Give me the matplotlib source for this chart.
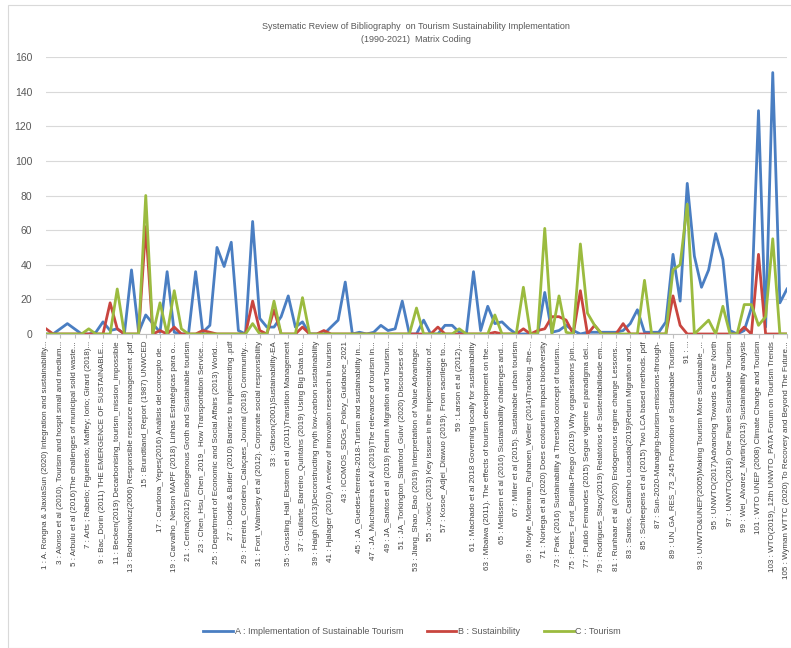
import matplotlib
matplotlib.use("Agg")
import matplotlib.pyplot as plt
import numpy as np

# ---- data -------------------------------------------------------------
series_names = ["A : Implementation of Sustainable Tourism",
                "B : Sustainbility",
                "C : Tourism"]

A_values = [0, 0, 3, 6, 3, 0, 0, 1, 7, 2,
            3, 0, 37, 1, 11, 6, 1, 36, 1, 0,
            0, 36, 1, 5, 50, 39, 53, 2, 0, 65,
            9, 4, 4, 10, 22, 4, 7, 0, 0, 0,
            4, 8, 30, 0, 1, 0, 1, 5, 2, 3,
            19, 0, 0, 8, 0, 0, 5, 5, 1, 0,
            36, 2, 16, 6, 7, 3, 0, 0, 0, 0,
            24, 1, 2, 5, 2, 0, 1, 1, 1, 1,
            1, 2, 6, 14, 1, 1, 1, 7, 46, 19,
            87, 45, 27, 37, 58, 43, 2, 0, 2, 15,
            129, 4, 151, 18, 26]

B_values = [3, 0, 0, 0, 0, 0, 0, 0, 0, 18,
            3, 0, 0, 0, 62, 0, 2, 0, 4, 0,
            0, 0, 2, 1, 0, 0, 0, 0, 0, 19,
            2, 0, 14, 0, 0, 0, 4, 0, 0, 2,
            0, 0, 0, 0, 0, 0, 0, 0, 0, 0,
            0, 0, 0, 0, 0, 4, 0, 0, 0, 0,
            0, 0, 0, 1, 0, 0, 0, 3, 0, 2,
            3, 10, 10, 8, 0, 25, 0, 5, 0, 0,
            0, 6, 0, 0, 0, 0, 0, 0, 22, 5,
            0, 0, 0, 0, 0, 0, 0, 0, 4, 0,
            46, 0, 0, 0, 0]

C_values = [0, 0, 0, 0, 0, 0, 3, 0, 0, 0,
            26, 0, 0, 0, 80, 0, 18, 0, 25, 3,
            0, 0, 0, 0, 0, 0, 0, 0, 0, 6,
            0, 0, 19, 0, 0, 0, 21, 0, 0, 0,
            0, 0, 0, 0, 0, 0, 0, 0, 0, 0,
            0, 0, 15, 0, 0, 0, 0, 0, 3, 0,
            0, 0, 0, 11, 0, 0, 0, 27, 0, 0,
            61, 0, 22, 1, 0, 52, 12, 5, 0, 0,
            0, 0, 0, 0, 31, 0, 0, 0, 37, 40,
            75, 0, 4, 8, 0, 16, 0, 0, 17, 17,
            5, 10, 55, 0, 0]

categories = list(range(1, 106))

odd_labels = [
    "1 : A. Rongna & JiaxiaSun (2020) Integration and sustainability...",
    "3 : Alonso et al (2010). Tourism and hospit small and medium...",
    "5 : Arbulu et al (2016)The challenges of municipal solid waste...",
    "7 : Arts ; Rabelo; Figueiredo; Maffey; Iorio; Girard (2018)...",
    "9 : Bac_Dorin (2011) THE EMERGENCE OF SUSTAINABLE...",
    "11 : Becken(2019) Decarbonising_tourism_mission_impossible",
    "13 : Bohdanowicz(2006) Responsible resource management .pdf",
    "15 : Brundtland_Report (1987) UNWCED",
    "17 : Cardona_Yepes(2016) Análisis del concepto de...",
    "19 : Carvalho_Nelson MAPF (2018) Linhas Estratégicas para o...",
    "21 : Cerina(2012) Endogenous Groth and Sustainable tourism",
    "23 : Chen_Hsu_Chen_2019_ How Transportation Service...",
    "25 : Department of Economic and Social Affairs (2013) World...",
    "27 : Dodds & Butler (2010) Barriers to implementing .pdf",
    "29 : Ferreira_Cordeiro_Calaçaes_Journal (2018) Community...",
    "31 : Font_Walmsley et al (2012). Corporate social responsibility",
    "33 : Gibson(2001)Sustainability-EA",
    "35 : Gossling_Hall_Ekstrom et al (2011)Transition Management",
    "37 : Guilarte_Barreiro_Quintáns (2019) Using Big Data to...",
    "39 : Haigh (2013)Deconstructing myth low-carbon sustainability",
    "41 : Hjalager (2010) A review of innovation research in tourism",
    "43 : ICOMOS_SDGs_Policy_Guidance_2021",
    "45 : JA_Guedes-ferreira-2018-Turism and sustainability in...",
    "47 : JA_Mucharreira et Al (2019)The relevance of tourism in...",
    "49 : JA_Santos et al (2019) Return Migration and Tourism...",
    "51 : JA_Torkington_Stanford_Guivr (2020) Discourses of...",
    "53 : Jiang_Shao_Bao (2019) Interpretation of Value Advantage...",
    "55 : Jovicic (2013) Key issues in the implementation of...",
    "57 : Kosoe_Adjei_Diawuo (2019). From sacrilege to...",
    "59 : Larson et al (2012)...",
    "61 : Machado et al 2018 Governing locally for sustainability",
    "63 : Mbaiwa (2011). The effects of tourism development on the...",
    "65 : Melissen et al (2016) Sustainability challenges and...",
    "67 : Miller et al (2015). Sustainable urban tourism",
    "69 : Moyle_Mclennan_Ruhanen_Weiler (2014)Tracking -the-...",
    "71 : Noriega et al (2020) Does ecotourism impact biodiversity",
    "73 : Park (2016) Sustainability a Threshold concept of tourism...",
    "75 : Peters_Font_Bonilla-Priego (2019) Why organisations join...",
    "77 : Pulido Fernandes (2015) Segue vigente el paradigma del...",
    "79 : Rodrigues_Stacy(2019) Relatórios de Sustentabilidade em...",
    "81 : Runhaar et al (2020) Endogenous regime change Lessons...",
    "83 : Santos, Castanho Lousada(2019)Return Migration and...",
    "85 : Schleepens et al (2015) Two LCA based methods. pdf",
    "87 : Sun-2020-Managing-tourism-emissions-through-",
    "89 : UN_GA_RES_73_245 Promotion of Sustainable Tourism",
    "91 : ...",
    "93 : UNWTO&UNEP(2005)Making Tourism More Sustainable_...",
    "95 : UNWTO(2017)Advancing Towards a Clear North",
    "97 : UNWTO(2018) One Planet Sustainable Tourism",
    "99 : Wei_Alvarez_Martin(2013) Sustainability analysis",
    "101 : WTO UNEP (2008) Climate Change and Tourism",
    "103 : WTO(2019)_12th UNWTO_PATA Forum on Tourism Trends",
    "105 : Wyman WTTC (2020) To Recovery and Beyond The Future...",
]
odd_positions = categories[::2]

y_ticks = [0, 20, 40, 60, 80, 100, 120, 140, 160]
title = ("Systematic Review of Bibliography  on Tourism Sustainability Implementation\n"
         "(1990-2021)  Matrix Coding")

colors = ["#4A7EC2", "#C9453F", "#9BBB3F"]

# ---- figure -----------------------------------------------------------
plt.rcParams['font.family'] = ['Liberation Sans', 'DejaVu Sans']
fig = plt.figure(figsize=(7.91, 6.48), dpi=100)
W, H = 791, 648
ax = fig.add_axes([46 / W, 1 - 334 / H, (787 - 46) / W, (334 - 57) / H])

for vals, c, name in zip([A_values, B_values, C_values], colors, series_names):
    ax.plot(categories, vals, color=c, lw=2.0, label=name, solid_joinstyle='round')

ax.set_xlim(1, 105)
ax.set_ylim(0, 160)
ax.set_yticks(y_ticks)
ax.set_yticklabels([str(v) for v in y_ticks], fontsize=7.5, color="#595959")
ax.set_xticks(odd_positions)
ax.set_xticklabels(odd_labels, rotation=90, fontsize=5.8, color="#404040",
                   va='top', ha='center')
ax.tick_params(axis='y', length=0, pad=10)
ax.tick_params(axis='x', length=3, color="#BFBFBF", pad=2)
ax.grid(axis='y', color="#D9D9D9", lw=0.8)
ax.set_axisbelow(True)
for s in ['top', 'right', 'left']:
    ax.spines[s].set_visible(False)
ax.spines['bottom'].set_color("#BFBFBF")

fig.text(416 / W, 1 - 33 / H, title, ha='center', va='center', fontsize=6.5,
         color="#595959", linespacing=1.55)

fig.legend(loc='center', bbox_to_anchor=(412 / W, 1 - 632 / H), ncol=3,
           frameon=False, fontsize=6.5, labelcolor="#595959",
           handlelength=3.3, columnspacing=2.6, handletextpad=0.2)

# chart border
fig.add_artist(plt.Rectangle((8 / W, 0), 1.5, 1 - 5 / H, transform=fig.transFigure,
                             fill=False, edgecolor="#D9D9D9", lw=0.8))

fig.savefig("out.png", dpi=100, facecolor="white")
